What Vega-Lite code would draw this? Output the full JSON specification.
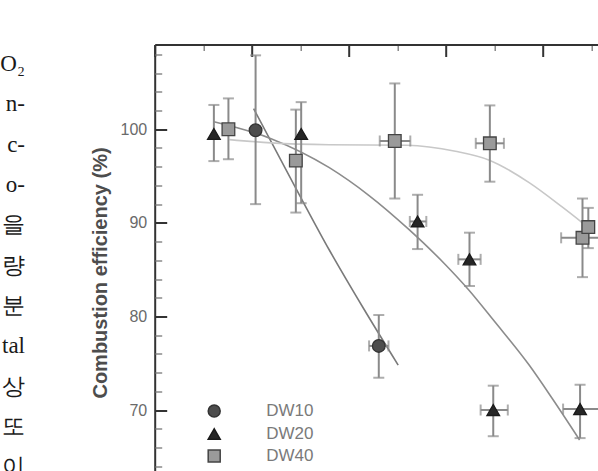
{
  "$schema": "https://vega.github.io/schema/vega-lite/v6.json",
  "padding": {"top": 43.5, "left": 0, "right": 0, "bottom": 0},
  "spacing": 126.7,
  "bounds": "flush",
  "background": "white",
  "config": {"view": {"stroke": null}},
  "resolve": {"scale": {"x": "independent", "y": "independent"}, "legend": {"shape": "independent", "fill": "independent", "stroke": "independent"}},
  "datasets": {
    "txt": [
      {"line": 1, "t": "O₂"}, {"line": 2, "t": "n-"}, {"line": 3, "t": "c-"}, {"line": 4, "t": "o-"},
      {"line": 5, "t": "을"}, {"line": 6, "t": "량"}, {"line": 7, "t": "분"}, {"line": 8, "t": "tal"},
      {"line": 9, "t": "상"}, {"line": 10, "t": "또"}, {"line": 11, "t": "이"}
    ],
    "pts": [
      {"series": "DW10", "x": 1.04, "y": 99.9, "ylo": 92.0, "yhi": 107.9},
      {"series": "DW10", "x": 2.31, "y": 76.85, "ylo": 73.45, "yhi": 80.15, "xlo": 2.21, "xhi": 2.41},
      {"series": "DW20", "x": 0.61, "y": 99.5, "ylo": 96.6, "yhi": 102.6},
      {"series": "DW20", "x": 1.51, "y": 99.5, "ylo": 92.1, "yhi": 102.9},
      {"series": "DW20", "x": 2.71, "y": 90.15, "ylo": 87.2, "yhi": 93.0, "xlo": 2.63, "xhi": 2.8},
      {"series": "DW20", "x": 3.245, "y": 86.1, "ylo": 83.25, "yhi": 88.95, "xlo": 3.13, "xhi": 3.36},
      {"series": "DW20", "x": 3.49, "y": 70.0, "ylo": 67.2, "yhi": 72.6, "xlo": 3.36, "xhi": 3.64},
      {"series": "DW20", "x": 4.385, "y": 70.1, "ylo": 67.0, "yhi": 72.7, "xlo": 4.21, "xhi": 4.6},
      {"series": "DW40", "x": 0.76, "y": 100.0, "ylo": 96.8, "yhi": 103.3},
      {"series": "DW40", "x": 1.455, "y": 96.65, "ylo": 91.1, "yhi": 102.1},
      {"series": "DW40", "x": 2.475, "y": 98.75, "ylo": 92.6, "yhi": 104.9, "xlo": 2.32, "xhi": 2.635},
      {"series": "DW40", "x": 3.455, "y": 98.5, "ylo": 94.4, "yhi": 102.55, "xlo": 3.31, "xhi": 3.6},
      {"series": "DW40", "x": 4.41, "y": 88.4, "ylo": 84.2, "yhi": 92.6, "xlo": 4.19, "xhi": 4.62},
      {"series": "DW40", "x": 4.47, "y": 89.55, "ylo": 87.3, "yhi": 91.6}
    ],
    "fits": [
      {"series": "DW10", "x": 1.02, "y": 102.2}, {"series": "DW10", "x": 1.45, "y": 93.8},
      {"series": "DW10", "x": 1.8, "y": 87.1}, {"series": "DW10", "x": 2.15, "y": 80.9},
      {"series": "DW10", "x": 2.51, "y": 74.8},
      {"series": "DW20", "x": 0.61, "y": 100.8}, {"series": "DW20", "x": 1.2, "y": 99.0},
      {"series": "DW20", "x": 1.8, "y": 95.9}, {"series": "DW20", "x": 2.2, "y": 93.0},
      {"series": "DW20", "x": 2.62, "y": 89.3}, {"series": "DW20", "x": 3.0, "y": 85.5},
      {"series": "DW20", "x": 3.24, "y": 82.8}, {"series": "DW20", "x": 3.5, "y": 79.5},
      {"series": "DW20", "x": 3.86, "y": 74.8}, {"series": "DW20", "x": 4.1, "y": 71.2},
      {"series": "DW20", "x": 4.38, "y": 66.8},
      {"series": "DW40", "x": 0.77, "y": 98.9}, {"series": "DW40", "x": 1.2, "y": 98.55},
      {"series": "DW40", "x": 1.8, "y": 98.35}, {"series": "DW40", "x": 2.6, "y": 98.3},
      {"series": "DW40", "x": 3.1, "y": 97.65}, {"series": "DW40", "x": 3.45, "y": 96.7},
      {"series": "DW40", "x": 3.86, "y": 94.3}, {"series": "DW40", "x": 4.2, "y": 91.7},
      {"series": "DW40", "x": 4.41, "y": 90.0}
    ]
  },
  "hconcat": [
    {
      "width": 27,
      "height": 456,
      "data": {"name": "txt"},
      "mark": {"type": "text", "align": "right", "baseline": "middle", "font": "Liberation Serif", "fontSize": 23, "color": "#1a1a1a"},
      "encoding": {
        "x": {"datum": 24, "type": "quantitative", "scale": {"domain": [0, 27]}, "axis": null},
        "y": {"field": "line", "type": "quantitative", "scale": {"domain": [0.5167, 11.818], "reverse": true, "nice": false, "zero": false}, "axis": null},
        "text": {"field": "t", "type": "nominal"}
      }
    },
    {
      "width": 460,
      "height": 456,
      "resolve": {"axis": {"y": "independent"}},
      "layer": [
        {
          "data": {"name": "fits"},
          "mark": {"type": "line", "strokeWidth": 1.6, "interpolate": "monotone"},
          "encoding": {
            "x": {
              "field": "x", "type": "quantitative", "title": null,
              "scale": {"domain": [0, 4.742], "nice": false, "zero": false},
              "axis": {
                "orient": "bottom", "offset": -456, "labels": false, "grid": false, "title": null,
                "values": [0, 0.25, 0.5, 0.75, 1, 1.25, 1.5, 1.75, 2, 2.25, 2.5, 2.75, 3, 3.25, 3.5, 3.75, 4, 4.25, 4.5, 4.75],
                "domainColor": "#333333", "domainWidth": 2,
                "tickColor": {"condition": {"test": "datum.value % 1 === 0", "value": "#333333"}, "value": "#777777"},
                "tickWidth": {"condition": {"test": "datum.value % 1 === 0", "value": 2}, "value": 1.3},
                "tickSize": {"condition": {"test": "datum.value % 1 === 0", "value": 12}, "value": 6}
              }
            },
            "y": {
              "field": "y", "type": "quantitative", "title": "Combustion efficiency (%)",
              "scale": {"domain": [60.33, 109.06], "nice": false, "zero": false},
              "axis": {
                "orient": "left", "grid": false, "ticks": false,
                "values": [70, 80, 90, 100],
                "domainColor": "#333333", "domainWidth": 2,
                "labelPadding": 8,
                "labelFont": "Liberation Sans", "labelFontSize": 16, "labelColor": "#6a6a6a",
                "titleFont": "Liberation Sans", "titleFontSize": 20, "titleFontWeight": "bold", "titleColor": "#4d4d4d",
                "titlePadding": 9.5
              }
            },
            "color": {
              "field": "series", "type": "nominal", "legend": null,
              "scale": {"domain": ["DW10", "DW20", "DW40"], "range": ["#7a7a7a", "#8c8c8c", "#c8c8c8"]}
            }
          }
        },
        {
          "data": {"name": "pts"},
          "mark": {"type": "errorbar", "color": "#8a8a8a", "thickness": 2, "ticks": {"size": 11, "thickness": 2}},
          "encoding": {
            "x": {"field": "x", "type": "quantitative", "title": null},
            "y": {"field": "ylo", "type": "quantitative", "title": null, "axis": null},
            "y2": {"field": "yhi"}
          }
        },
        {
          "data": {"name": "pts"},
          "transform": [{"filter": "isValid(datum.xlo)"}],
          "mark": {"type": "errorbar", "color": "#8a8a8a", "thickness": 2, "ticks": {"size": 11, "thickness": 2}},
          "encoding": {
            "y": {"field": "y", "type": "quantitative", "title": null, "axis": null},
            "x": {"field": "xlo", "type": "quantitative", "title": null},
            "x2": {"field": "xhi"}
          }
        },
        {
          "data": {"name": "pts"},
          "mark": {"type": "point", "filled": true, "size": 160, "strokeWidth": 1.3, "opacity": 1},
          "encoding": {
            "x": {"field": "x", "type": "quantitative", "title": null},
            "y": {
              "field": "y", "type": "quantitative", "title": null,
              "axis": {
                "orient": "right", "offset": -460, "labels": false, "domain": false, "grid": false, "title": null,
                "values": [62, 64, 66, 68, 70, 72, 74, 76, 78, 80, 82, 84, 86, 88, 90, 92, 94, 96, 98, 100, 102, 104, 106, 108],
                "tickColor": {"condition": {"test": "datum.value % 10 === 0", "value": "#333333"}, "value": "#777777"},
                "tickWidth": {"condition": {"test": "datum.value % 10 === 0", "value": 2}, "value": 1.3},
                "tickSize": {"condition": {"test": "datum.value % 10 === 0", "value": 12}, "value": 7}
              }
            },
            "shape": {
              "field": "series", "type": "nominal",
              "scale": {"domain": ["DW10", "DW20", "DW40"], "range": ["circle", "triangle-up", "square"]},
              "legend": {
                "orient": "none", "legendX": 51, "legendY": 358, "title": null, "padding": 0,
                "symbolSize": 144, "labelOffset": 43.5, "rowPadding": 4,
                "labelFont": "Liberation Sans", "labelFontSize": 17, "labelColor": "#7a7a7a"
              }
            },
            "fill": {
              "field": "series", "type": "nominal",
              "scale": {"domain": ["DW10", "DW20", "DW40"], "range": ["#4d4d4d", "#262626", "#9a9a9a"]},
              "legend": {
                "orient": "none", "legendX": 51, "legendY": 358, "title": null, "padding": 0,
                "symbolSize": 144, "labelOffset": 43.5, "rowPadding": 4,
                "labelFont": "Liberation Sans", "labelFontSize": 17, "labelColor": "#7a7a7a"
              }
            },
            "stroke": {
              "field": "series", "type": "nominal",
              "scale": {"domain": ["DW10", "DW20", "DW40"], "range": ["#333333", "#1a1a1a", "#444444"]},
              "legend": {
                "orient": "none", "legendX": 51, "legendY": 358, "title": null, "padding": 0,
                "symbolSize": 144, "labelOffset": 43.5, "rowPadding": 4,
                "labelFont": "Liberation Sans", "labelFontSize": 17, "labelColor": "#7a7a7a"
              }
            }
          }
        }
      ]
    }
  ]
}
